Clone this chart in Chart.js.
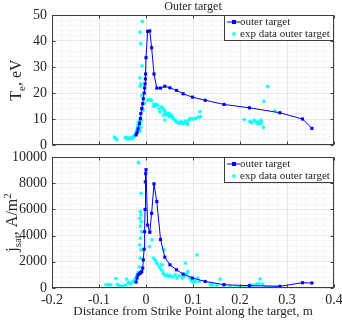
<!DOCTYPE html>
<html>
<head>
<meta charset="utf-8">
<script src="https://cdn.jsdelivr.net/npm/chart.js@4.4.1/dist/chart.umd.min.js"></script>
<style>
  body { margin: 0; background: #fff; }
  #wrap { position: relative; width: 342px; height: 320px; }
  #wrap canvas { position: absolute; left: 0; }
</style>
</head>
<body>
<div id="wrap">
  <canvas id="teChart" width="342" height="150" style="top:0"></canvas>
  <canvas id="jChart" width="342" height="170" style="top:150px"></canvas>
</div>
<script>
// ===== DATA =====
const simX = [-0.021,-0.019,-0.017,-0.014,-0.012,-0.011,-0.009,-0.007,-0.0057,-0.004,-0.003,-0.002,-0.0014,-0.0007,0,0.0035,0.008,0.012,0.017,0.023,0.031,0.040,0.051,0.065,0.079,0.099,0.126,0.166,0.220,0.285,0.333,0.353];
const simTe = [3.9,4.8,6.2,8.3,10.2,12.1,14,15.9,17.8,20,21.9,23.5,25.4,27.3,33.6,43.7,43.9,37.4,27.3,21.9,21.9,22.6,22,21,19.7,18.4,17.2,15.6,14.3,12.4,10,6.4];
const simJsat = [455,760,1010,1090,1140,1190,1250,1520,2150,2960,4300,6000,8100,8730,9030,4800,4250,5700,7950,6600,3700,2350,1770,1390,1060,760,500,250,180,130,405,380];

const expTeX = [-0.067,-0.065,-0.062,-0.044,-0.042,-0.040,-0.038,-0.036,-0.034,-0.032,-0.030,-0.028,-0.026,-0.024,-0.022,-0.020,
  -0.019,-0.018,-0.017,-0.016,-0.015,-0.014,-0.013,-0.012,-0.011,-0.010,
  -0.0079,-0.0128,-0.0113,-0.0085,-0.0128,-0.011,-0.012,-0.009,-0.008,-0.006,-0.004,
  0.003,0.007,0.012,0.016,0.017,0.019,0.023,0.025,0.028,0.030,0.033,0.035,0.037,0.038,0.040,0.040,0.043,0.044,0.048,0.050,0.052,0.055,0.057,0.058,0.062,0.064,0.067,0.071,0.074,0.078,0.081,0.084,0.087,0.089,0.091,0.094,0.099,0.105,0.111,0.115,0.116,
  0.209,0.221,0.225,0.230,0.234,0.237,0.241,0.243,0.245,0.246,0.250,0.251,0.259,0.274];
const expTe = [3.0,2.6,2.0,2.9,2.5,2.7,2.4,2.6,2.4,2.7,2.5,2.9,3.1,3.6,4.2,4.8,
  5.6,6.5,7.6,8.8,6.0,7.0,5.4,8.4,6.8,9.5,
  47.5,43.4,39.0,30.4,25.8,23.5,22.6,19.0,14.0,13.4,16.0,
  17.3,17.4,17.2,15.0,15.8,15.0,15.5,15.3,14.0,12.8,14.6,14.3,11.5,13.6,12.8,9.6,12.1,11.5,12.1,10.9,11.7,11.1,10.5,10.0,9.6,9.0,8.7,8.3,9.0,8.2,8.7,9.2,8.3,8.0,9.5,10.2,10.0,10.2,10.7,12.8,10.9,
  9.8,9.0,8.6,9.5,9.0,8.3,9.0,8.1,9.5,8.7,6.8,16.8,22.5,13.1];

const expJX = [-0.085,-0.080,-0.075,-0.064,-0.061,-0.057,-0.052,-0.048,-0.043,-0.041,-0.037,-0.035,-0.031,-0.028,-0.025,-0.023,-0.020,
  -0.0157,-0.0106,-0.012,-0.011,-0.013,-0.010,-0.012,-0.009,-0.012,-0.0136,-0.0106,-0.012,-0.014,-0.016,-0.018,
  0.0077,0.009,0.0128,0.016,0.020,0.023,0.027,0.030,0.034,0.034,0.037,0.038,0.041,0.045,0.048,0.052,0.057,0.062,0.066,0.071,0.077,0.081,0.084,0.087,0.089,0.093,0.096,0.100,0.105,0.1085,0.110,0.113,
  0.137,0.142,0.151,0.158,0.165,0.179,0.190,0.197,0.205,0.212,0.222,0.228,0.235,0.240,0.243,0.248,0.254,0.262,0.268,0.275,0.282];
const expJ = [250,230,250,730,250,180,130,130,230,680,430,330,380,480,560,680,890,
  9570,7220,5830,5570,5320,5060,4730,4300,3800,3290,2910,2280,1600,1200,900,
  3160,4300,3670,2280,2100,1900,1690,1520,1770,1340,1090,2910,935,1010,880,935,836,1010,760,935,760,880,1900,1090,1260,760,555,455,500,2530,760,500,
  250,220,200,680,230,120,50,80,30,60,250,200,280,330,690,300,80,60,40,80,50];

const xMajor = [-0.2,-0.1,0,0.1,0.2,0.3,0.4];
const teMajor = [0,10,20,30,40,50];
const jMajor = [0,2000,4000,6000,8000,10000];
const legendLabels = ['outer target', 'exp data outer target'];

// ===== STYLE =====
const FONT = "'Liberation Serif', 'DejaVu Serif', serif";
const TXT = '#262626';
const AXIS = '#3c3c3c';
const MAJOR_GRID = 'rgba(0,0,0,0.09)';
const MINOR_GRID = 'rgba(0,0,0,0.035)';
const BLUE = '#0000ff';
const CYAN = '#00ffff';

const isMajor = (v, list) => list.some(t => Math.abs(t - v) < 1e-6);
const toPts = (xs, ys) => xs.map((x, i) => ({ x, y: ys[i] }));

// rich text (sub/superscripts), rotated -90 when vertical
function drawRich(ctx, parts, cx, cy, size, vertical) {
  const fontFor = p => (p.sub || p.sup ? Math.round(size * 0.7) : size) + 'px ' + FONT;
  let total = 0;
  parts.forEach(p => { ctx.font = fontFor(p); p.w = ctx.measureText(p.t).width; total += p.w; });
  ctx.save();
  ctx.translate(cx, cy);
  if (vertical) ctx.rotate(-Math.PI / 2);
  ctx.fillStyle = TXT;
  ctx.textBaseline = 'alphabetic';
  ctx.textAlign = 'left';
  let x = -total / 2;
  parts.forEach(p => {
    ctx.font = fontFor(p);
    const dy = p.sub ? size * 0.25 : p.sup ? -size * 0.4 : 0;
    ctx.fillText(p.t, x, size * 0.33 + dy);
    x += p.w;
  });
  ctx.restore();
}

// box + inward ticks, legend, labels
function panelPlugin(opts) {
  return {
    id: 'panel',
    afterDraw(chart) {
      const { ctx, chartArea: a, scales } = chart;
      const L = Math.round(a.left) + 0.5, R = Math.round(a.right) - 0.5;
      const T = Math.round(a.top) + 0.5, B = Math.round(a.bottom) - 0.5;
      ctx.save();
      ctx.strokeStyle = AXIS;
      ctx.lineWidth = 1;
      ctx.beginPath();
      xMajor.forEach(v => {
        const px = Math.round(scales.x.getPixelForValue(v)) + 0.5;
        ctx.moveTo(px, B); ctx.lineTo(px, B - 3);
        ctx.moveTo(px, T); ctx.lineTo(px, T + 3);
      });
      opts.yMajor.forEach(v => {
        const py = Math.round(scales.y.getPixelForValue(v)) + 0.5;
        ctx.moveTo(L, py); ctx.lineTo(L + 3, py);
        ctx.moveTo(R, py); ctx.lineTo(R - 3, py);
      });
      ctx.stroke();
      ctx.strokeRect(L, T, R - L, B - T);

      // legend box
      const w = 110, h = 26;
      const x0 = Math.round(a.right) - w, y0 = Math.round(a.top);
      ctx.fillStyle = '#fff';
      ctx.fillRect(x0, y0, w, h);
      ctx.strokeRect(x0 + 0.5, y0 + 0.5, w - 1, h - 1);
      const r1 = y0 + 7, r2 = y0 + 19;
      ctx.strokeStyle = BLUE;
      ctx.beginPath(); ctx.moveTo(x0 + 3, r1); ctx.lineTo(x0 + 16, r1); ctx.stroke();
      ctx.fillStyle = BLUE;
      ctx.fillRect(x0 + 8, r1 - 2, 4, 4);
      ctx.strokeStyle = CYAN;
      ctx.beginPath();
      ctx.moveTo(x0 + 8, r2); ctx.lineTo(x0 + 12, r2);
      ctx.moveTo(x0 + 10, r2 - 2); ctx.lineTo(x0 + 10, r2 + 2);
      ctx.moveTo(x0 + 8.5, r2 - 1.5); ctx.lineTo(x0 + 11.5, r2 + 1.5);
      ctx.moveTo(x0 + 8.5, r2 + 1.5); ctx.lineTo(x0 + 11.5, r2 - 1.5);
      ctx.stroke();
      ctx.fillStyle = TXT;
      ctx.font = '11px ' + FONT;
      ctx.textBaseline = 'middle';
      ctx.textAlign = 'left';
      ctx.fillText(legendLabels[0], x0 + 16, r1);
      ctx.fillText(legendLabels[1], x0 + 16, r2);

      if (opts.title) {
        ctx.font = '12px ' + FONT;
        ctx.textAlign = 'center';
        ctx.fillText(opts.title, (a.left + a.right) / 2, 7);
      }
      if (opts.xTitle) {
        ctx.font = '13px ' + FONT;
        ctx.textAlign = 'center';
        ctx.fillText(opts.xTitle, (a.left + a.right) / 2, opts.xTitleY);
      }
      drawRich(ctx, opts.yLabel, opts.yLabelX, (a.top + a.bottom) / 2, opts.yLabelSize, true);
      ctx.restore();
    }
  };
}

function makePanel(id, o) {
  return new Chart(document.getElementById(id), {
    type: 'line',
    data: {
      datasets: [
        {
          label: legendLabels[0],
          data: toPts(simX, o.sim),
          borderColor: BLUE,
          backgroundColor: BLUE,
          borderWidth: 1,
          pointStyle: 'rect',
          pointRadius: 2.2,
          pointBorderWidth: 0,
          tension: 0
        },
        {
          label: legendLabels[1],
          type: 'scatter',
          data: toPts(o.expX, o.exp),
          showLine: false,
          borderColor: CYAN,
          backgroundColor: CYAN,
          pointStyle: 'star',
          pointRadius: 2,
          pointBorderWidth: 1
        }
      ]
    },
    options: {
      responsive: false,
      animation: false,
      events: [],
      layout: { padding: { top: o.padTop, right: 8, left: 0, bottom: 0 } },
      plugins: { legend: { display: false }, tooltip: { enabled: false } },
      scales: {
        x: {
          type: 'linear',
          min: -0.2, max: 0.4,
          afterFit: s => { s.height = o.xHeight; s.paddingLeft = 0; s.paddingRight = 0; },
          border: { display: false },
          grid: {
            drawTicks: false,
            color: c => isMajor(c.tick.value, xMajor) ? MAJOR_GRID : MINOR_GRID
          },
          ticks: {
            display: o.xLabels,
            stepSize: 0.02,
            autoSkip: false,
            maxRotation: 0,
            padding: 4,
            color: TXT,
            font: { family: FONT, size: 14 },
            callback: v => isMajor(v, xMajor) ? String(Math.round(v * 10) / 10) : ''
          }
        },
        y: {
          min: 0, max: o.yMax,
          afterFit: s => { s.width = 52; s.paddingTop = 0; s.paddingBottom = 0; },
          border: { display: false },
          grid: {
            drawTicks: false,
            color: c => isMajor(c.tick.value, o.yMajor) ? MAJOR_GRID : MINOR_GRID
          },
          ticks: {
            stepSize: o.yStep,
            autoSkip: false,
            padding: 5,
            color: TXT,
            font: { family: FONT, size: 14 },
            callback: v => isMajor(v, o.yMajor) ? String(v) : ''
          }
        }
      }
    },
    plugins: [panelPlugin(o)]
  });
}

makePanel('teChart', {
  sim: simTe, expX: expTeX, exp: expTe,
  yMax: 50, yStep: 2, yMajor: teMajor,
  padTop: 15, xHeight: 3, xLabels: false,
  title: 'Outer target',
  yLabel: [{ t: 'T' }, { t: 'e', sub: true }, { t: ', eV' }],
  yLabelX: 16, yLabelSize: 16
});

makePanel('jChart', {
  sim: simJsat, expX: expJX, exp: expJ,
  yMax: 10000, yStep: 400, yMajor: jMajor,
  padTop: 7, xHeight: 32, xLabels: true,
  xTitle: 'Distance from Strike Point along the target, m',
  xTitleY: 162,
  yLabel: [{ t: 'j' }, { t: 'sat', sub: true }, { t: ', A/m' }, { t: '2', sup: true }],
  yLabelX: 12, yLabelSize: 16
});
</script>
</body>
</html>
